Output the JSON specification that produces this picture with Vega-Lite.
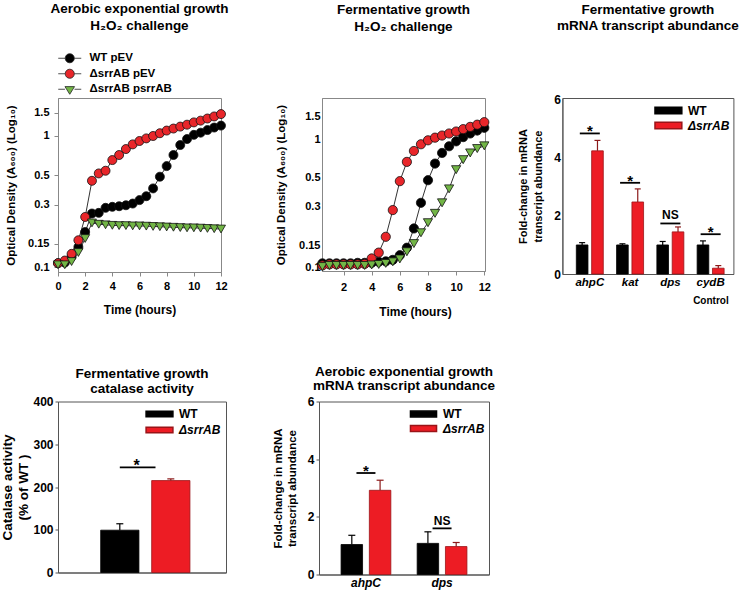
{
"$schema": "https://vega.github.io/schema/vega-lite/v6.json",
"autosize": {"type": "none"},
"padding": {"left": 58, "top": 98, "right": 683, "bottom": 494},
"background": "white",
"config": {
  "font": "Liberation Sans",
  "axis": {"labelFont": "Liberation Sans", "labelFontWeight": "bold", "labelFontSize": 11, "labelColor": "#000", "labelOverlap": false, "titleFont": "Liberation Sans", "titleFontWeight": "bold", "titleFontSize": 11.5, "titleColor": "#000", "grid": false, "domainColor": "#888", "tickColor": "#888"},
  "legend": {"labelFont": "Liberation Sans", "labelFontWeight": "bold", "labelFontSize": 12, "labelColor": "#000", "padding": 0},
  "title": {"font": "Liberation Sans", "fontWeight": "bold", "fontSize": 13.5, "color": "#000", "anchor": "middle", "lineHeight": 16},
  "view": {"stroke": "#888"}
},
"datasets": {
  "growthA": [
    {"t":0,"od":0.107,"s":"WT pEV"},{"t":0.5,"od":0.108,"s":"WT pEV"},{"t":1,"od":0.12,"s":"WT pEV"},{"t":1.5,"od":0.142,"s":"WT pEV"},{"t":2,"od":0.185,"s":"WT pEV"},{"t":2.5,"od":0.256,"s":"WT pEV"},{"t":3,"od":0.259,"s":"WT pEV"},{"t":3.5,"od":0.283,"s":"WT pEV"},{"t":4,"od":0.288,"s":"WT pEV"},{"t":4.5,"od":0.291,"s":"WT pEV"},{"t":5,"od":0.296,"s":"WT pEV"},{"t":5.5,"od":0.305,"s":"WT pEV"},{"t":6,"od":0.324,"s":"WT pEV"},{"t":6.5,"od":0.347,"s":"WT pEV"},{"t":7,"od":0.398,"s":"WT pEV"},{"t":7.5,"od":0.489,"s":"WT pEV"},{"t":8,"od":0.589,"s":"WT pEV"},{"t":8.5,"od":0.716,"s":"WT pEV"},{"t":9,"od":0.853,"s":"WT pEV"},{"t":9.5,"od":0.948,"s":"WT pEV"},{"t":10,"od":1.02,"s":"WT pEV"},{"t":10.5,"od":1.06,"s":"WT pEV"},{"t":11,"od":1.11,"s":"WT pEV"},{"t":11.5,"od":1.16,"s":"WT pEV"},{"t":12,"od":1.2,"s":"WT pEV"},
    {"t":0,"od":0.107,"s":"ΔsrrAB pEV"},{"t":0.5,"od":0.112,"s":"ΔsrrAB pEV"},{"t":1,"od":0.126,"s":"ΔsrrAB pEV"},{"t":1.5,"od":0.16,"s":"ΔsrrAB pEV"},{"t":2,"od":0.241,"s":"ΔsrrAB pEV"},{"t":2.5,"od":0.455,"s":"ΔsrrAB pEV"},{"t":3,"od":0.518,"s":"ΔsrrAB pEV"},{"t":3.5,"od":0.543,"s":"ΔsrrAB pEV"},{"t":4,"od":0.655,"s":"ΔsrrAB pEV"},{"t":4.5,"od":0.716,"s":"ΔsrrAB pEV"},{"t":5,"od":0.795,"s":"ΔsrrAB pEV"},{"t":5.5,"od":0.863,"s":"ΔsrrAB pEV"},{"t":6,"od":0.916,"s":"ΔsrrAB pEV"},{"t":6.5,"od":0.959,"s":"ΔsrrAB pEV"},{"t":7,"od":1.0,"s":"ΔsrrAB pEV"},{"t":7.5,"od":1.05,"s":"ΔsrrAB pEV"},{"t":8,"od":1.1,"s":"ΔsrrAB pEV"},{"t":8.5,"od":1.14,"s":"ΔsrrAB pEV"},{"t":9,"od":1.18,"s":"ΔsrrAB pEV"},{"t":9.5,"od":1.22,"s":"ΔsrrAB pEV"},{"t":10,"od":1.27,"s":"ΔsrrAB pEV"},{"t":10.5,"od":1.31,"s":"ΔsrrAB pEV"},{"t":11,"od":1.36,"s":"ΔsrrAB pEV"},{"t":11.5,"od":1.41,"s":"ΔsrrAB pEV"},{"t":12,"od":1.47,"s":"ΔsrrAB pEV"},
    {"t":0,"od":0.104,"s":"ΔsrrAB psrrAB"},{"t":0.5,"od":0.104,"s":"ΔsrrAB psrrAB"},{"t":1,"od":0.11,"s":"ΔsrrAB psrrAB"},{"t":1.5,"od":0.129,"s":"ΔsrrAB psrrAB"},{"t":2,"od":0.165,"s":"ΔsrrAB psrrAB"},{"t":2.5,"od":0.217,"s":"ΔsrrAB psrrAB"},{"t":3,"od":0.212,"s":"ΔsrrAB psrrAB"},{"t":3.5,"od":0.21,"s":"ΔsrrAB psrrAB"},{"t":4,"od":0.208,"s":"ΔsrrAB psrrAB"},{"t":4.5,"od":0.207,"s":"ΔsrrAB psrrAB"},{"t":5,"od":0.207,"s":"ΔsrrAB psrrAB"},{"t":5.5,"od":0.206,"s":"ΔsrrAB psrrAB"},{"t":6,"od":0.206,"s":"ΔsrrAB psrrAB"},{"t":6.5,"od":0.205,"s":"ΔsrrAB psrrAB"},{"t":7,"od":0.204,"s":"ΔsrrAB psrrAB"},{"t":7.5,"od":0.203,"s":"ΔsrrAB psrrAB"},{"t":8,"od":0.202,"s":"ΔsrrAB psrrAB"},{"t":8.5,"od":0.201,"s":"ΔsrrAB psrrAB"},{"t":9,"od":0.2,"s":"ΔsrrAB psrrAB"},{"t":9.5,"od":0.199,"s":"ΔsrrAB psrrAB"},{"t":10,"od":0.199,"s":"ΔsrrAB psrrAB"},{"t":10.5,"od":0.198,"s":"ΔsrrAB psrrAB"},{"t":11,"od":0.197,"s":"ΔsrrAB psrrAB"},{"t":11.5,"od":0.196,"s":"ΔsrrAB psrrAB"},{"t":12,"od":0.195,"s":"ΔsrrAB psrrAB"}
  ],
  "growthB": [
    {"t":0.5,"od":0.108,"s":"WT pEV"},{"t":1,"od":0.108,"s":"WT pEV"},{"t":1.5,"od":0.108,"s":"WT pEV"},{"t":2,"od":0.108,"s":"WT pEV"},{"t":2.5,"od":0.108,"s":"WT pEV"},{"t":3,"od":0.109,"s":"WT pEV"},{"t":3.5,"od":0.109,"s":"WT pEV"},{"t":4,"od":0.109,"s":"WT pEV"},{"t":4.5,"od":0.111,"s":"WT pEV"},{"t":5,"od":0.112,"s":"WT pEV"},{"t":5.5,"od":0.115,"s":"WT pEV"},{"t":6,"od":0.125,"s":"WT pEV"},{"t":6.5,"od":0.143,"s":"WT pEV"},{"t":7,"od":0.202,"s":"WT pEV"},{"t":7.5,"od":0.32,"s":"WT pEV"},{"t":8,"od":0.48,"s":"WT pEV"},{"t":8.5,"od":0.647,"s":"WT pEV"},{"t":9,"od":0.783,"s":"WT pEV"},{"t":9.5,"od":0.883,"s":"WT pEV"},{"t":10,"od":0.964,"s":"WT pEV"},{"t":10.5,"od":1.04,"s":"WT pEV"},{"t":11,"od":1.11,"s":"WT pEV"},{"t":11.5,"od":1.17,"s":"WT pEV"},{"t":12,"od":1.23,"s":"WT pEV"},
    {"t":0.5,"od":0.104,"s":"ΔsrrAB pEV"},{"t":1,"od":0.106,"s":"ΔsrrAB pEV"},{"t":1.5,"od":0.106,"s":"ΔsrrAB pEV"},{"t":2,"od":0.106,"s":"ΔsrrAB pEV"},{"t":2.5,"od":0.106,"s":"ΔsrrAB pEV"},{"t":3,"od":0.106,"s":"ΔsrrAB pEV"},{"t":3.5,"od":0.107,"s":"ΔsrrAB pEV"},{"t":4,"od":0.118,"s":"ΔsrrAB pEV"},{"t":4.5,"od":0.131,"s":"ΔsrrAB pEV"},{"t":5,"od":0.174,"s":"ΔsrrAB pEV"},{"t":5.5,"od":0.281,"s":"ΔsrrAB pEV"},{"t":6,"od":0.472,"s":"ΔsrrAB pEV"},{"t":6.5,"od":0.667,"s":"ΔsrrAB pEV"},{"t":7,"od":0.811,"s":"ΔsrrAB pEV"},{"t":7.5,"od":0.915,"s":"ΔsrrAB pEV"},{"t":8,"od":0.982,"s":"ΔsrrAB pEV"},{"t":8.5,"od":1.03,"s":"ΔsrrAB pEV"},{"t":9,"od":1.07,"s":"ΔsrrAB pEV"},{"t":9.5,"od":1.11,"s":"ΔsrrAB pEV"},{"t":10,"od":1.15,"s":"ΔsrrAB pEV"},{"t":10.5,"od":1.2,"s":"ΔsrrAB pEV"},{"t":11,"od":1.25,"s":"ΔsrrAB pEV"},{"t":11.5,"od":1.3,"s":"ΔsrrAB pEV"},{"t":12,"od":1.36,"s":"ΔsrrAB pEV"},
    {"t":0.5,"od":0.102,"s":"ΔsrrAB psrrAB"},{"t":1,"od":0.104,"s":"ΔsrrAB psrrAB"},{"t":1.5,"od":0.104,"s":"ΔsrrAB psrrAB"},{"t":2,"od":0.104,"s":"ΔsrrAB psrrAB"},{"t":2.5,"od":0.104,"s":"ΔsrrAB psrrAB"},{"t":3,"od":0.104,"s":"ΔsrrAB psrrAB"},{"t":3.5,"od":0.104,"s":"ΔsrrAB psrrAB"},{"t":4,"od":0.105,"s":"ΔsrrAB psrrAB"},{"t":4.5,"od":0.106,"s":"ΔsrrAB psrrAB"},{"t":5,"od":0.108,"s":"ΔsrrAB psrrAB"},{"t":5.5,"od":0.111,"s":"ΔsrrAB psrrAB"},{"t":6,"od":0.117,"s":"ΔsrrAB psrrAB"},{"t":6.5,"od":0.133,"s":"ΔsrrAB psrrAB"},{"t":7,"od":0.154,"s":"ΔsrrAB psrrAB"},{"t":7.5,"od":0.187,"s":"ΔsrrAB psrrAB"},{"t":8,"od":0.224,"s":"ΔsrrAB psrrAB"},{"t":8.5,"od":0.265,"s":"ΔsrrAB psrrAB"},{"t":9,"od":0.32,"s":"ΔsrrAB psrrAB"},{"t":9.5,"od":0.411,"s":"ΔsrrAB psrrAB"},{"t":10,"od":0.58,"s":"ΔsrrAB psrrAB"},{"t":10.5,"od":0.694,"s":"ΔsrrAB psrrAB"},{"t":11,"od":0.783,"s":"ΔsrrAB psrrAB"},{"t":11.5,"od":0.847,"s":"ΔsrrAB psrrAB"},{"t":12,"od":0.889,"s":"ΔsrrAB psrrAB"}
  ],
  "barsC": [
    {"gene":"ahpC","series":"WT","mean":1.0,"hi":1.08},{"gene":"ahpC","series":"ΔsrrAB","mean":4.24,"hi":4.6},
    {"gene":"kat","series":"WT","mean":1.0,"hi":1.04},{"gene":"kat","series":"ΔsrrAB","mean":2.48,"hi":2.93},
    {"gene":"dps","series":"WT","mean":1.0,"hi":1.12},{"gene":"dps","series":"ΔsrrAB","mean":1.45,"hi":1.62},
    {"gene":"cydB","series":"WT","mean":1.0,"hi":1.14},{"gene":"cydB","series":"ΔsrrAB","mean":0.2,"hi":0.29}
  ],
  "sigC": [
    {"gene":"ahpC","level":4.84,"label":"*"},{"gene":"kat","level":3.14,"label":"*"},{"gene":"dps","level":1.74,"label":"NS"},{"gene":"cydB","level":1.37,"label":"*"}
  ],
  "barsD": [
    {"series":"WT","mean":99,"hi":114},{"series":"ΔsrrAB","mean":215,"hi":219}
  ],
  "sigD": [
    {"from":"WT","to":"ΔsrrAB","level":246,"label":"*"}
  ],
  "barsE": [
    {"gene":"ahpC","series":"WT","mean":1.04,"hi":1.36},{"gene":"ahpC","series":"ΔsrrAB","mean":2.92,"hi":3.27},
    {"gene":"dps","series":"WT","mean":1.08,"hi":1.48},{"gene":"dps","series":"ΔsrrAB","mean":0.97,"hi":1.11}
  ],
  "sigE": [
    {"gene":"ahpC","level":3.52,"label":"*"},{"gene":"dps","level":1.6,"label":"NS"}
  ]
},
"bounds": "full",
"spacing": 45.5,
"resolve": {"scale": {"x": "independent", "y": "independent", "fill": "independent", "stroke": "independent", "color": "independent", "shape": "independent", "xOffset": "independent"}, "legend": {"fill": "independent", "shape": "independent", "stroke": "independent", "color": "independent"}},
"vconcat": [
  {
    "bounds": "full",
    "spacing": 24.4,
    "resolve": {"scale": {"x": "independent", "y": "independent", "fill": "independent", "stroke": "independent", "color": "independent", "shape": "independent", "xOffset": "independent"}, "legend": {"fill": "independent", "shape": "independent", "stroke": "independent", "color": "independent"}},
    "hconcat": [
      {
        "bounds": "flush",
        "spacing": 101,
        "resolve": {"scale": {"x": "independent", "y": "independent", "fill": "independent", "shape": "independent"}, "legend": {"fill": "independent", "shape": "independent"}},
        "hconcat": [
          {
            "width": 163, "height": 174,
            "title": {"text": ["Aerobic exponential growth", "H₂O₂  challenge"], "offset": 20, "lineHeight": 17},
            "data": {"name": "growthA"},
            "encoding": {
              "x": {"field": "t", "type": "quantitative", "scale": {"domain": [0, 12], "nice": false, "zero": false},
                    "axis": {"values": [0, 2, 4, 6, 8, 10, 12], "labelFlush": false, "title": "Time (hours)", "tickSize": 4, "labelPadding": 4, "titlePadding": 13, "titleFontSize": 12}},
              "y": {"field": "od", "type": "quantitative", "scale": {"type": "log", "domain": [0.0916, 1.95], "nice": false},
                    "axis": {"values": [0.1, 0.15, 0.3, 0.5, 1, 1.5], "format": "~g", "labelFlush": false, "title": "Optical Density (A₆₀₀) (Log₁₀)", "tickSize": 4, "labelPadding": 5, "titlePadding": 11}}
            },
            "layer": [
              {"mark": {"type": "line", "color": "#333", "strokeWidth": 1}, "encoding": {"detail": {"field": "s", "type": "nominal"}}},
              {"transform": [{"filter": "datum.s !== 'ΔsrrAB psrrAB'"}],
               "mark": {"type": "point", "shape": "circle", "filled": true, "opacity": 1, "size": 81, "stroke": "#111", "strokeWidth": 0.8},
               "encoding": {
                 "fill": {"field": "s", "type": "nominal", "scale": {"domain": ["WT pEV", "ΔsrrAB pEV", "ΔsrrAB psrrAB"], "range": ["#000000", "#e8262a", "#72b546"]},
                          "legend": {"title": null, "orient": "none", "legendX": 6, "legendY": -45.5, "symbolSize": 92, "labelOffset": 14, "rowPadding": 2.5, "labelFontSize": 11.5,
                                     "symbolType": {"expr": "datum.value === 'ΔsrrAB psrrAB' ? 'M-2.4,0H-1M1,0H2.4M-1,-0.55L1,-0.55L0,1.05Z' : 'M-2.4,0H-0.95M0.95,0H2.4M0.95,0A0.95,0.95,0,1,1,-0.95,0A0.95,0.95,0,1,1,0.95,0Z'"},
                                     "symbolStrokeColor": "#222", "symbolStrokeWidth": 0.8}}
               }},
              {"transform": [{"filter": "datum.s === 'ΔsrrAB psrrAB'"}],
               "mark": {"type": "point", "shape": "triangle-down", "filled": true, "opacity": 1, "size": 81, "stroke": "#111", "strokeWidth": 0.8},
               "encoding": {
                 "fill": {"field": "s", "type": "nominal"}
               }}
            ]
          },
          {
            "width": 163, "height": 173,
            "title": {"text": ["Fermentative growth", "H₂O₂  challenge"], "offset": 64.5, "lineHeight": 17},
            "data": {"name": "growthB"},
            "encoding": {
              "x": {"field": "t", "type": "quantitative", "scale": {"domain": [0.47, 12.05], "nice": false, "zero": false},
                    "axis": {"values": [2, 4, 6, 8, 10, 12], "labelFlush": false, "title": "Time (hours)", "tickSize": 4, "labelPadding": 6, "titlePadding": 14, "titleFontSize": 12, "titleX": 93}},
              "y": {"field": "od", "type": "quantitative", "scale": {"type": "log", "domain": [0.0942, 2.098], "nice": false},
                    "axis": {"values": [0.1, 0.15, 0.3, 0.5, 1, 1.5], "format": "~g", "labelFlush": false, "title": "Optical Density (A₆₀₀) (Log₁₀)", "ticks": false, "labelPadding": 2, "titlePadding": 12}}
            },
            "layer": [
              {"mark": {"type": "line", "color": "#333", "strokeWidth": 1}, "encoding": {"detail": {"field": "s", "type": "nominal"}}},
              {"mark": {"type": "point", "filled": true, "opacity": 1, "size": 85, "stroke": "#111", "strokeWidth": 0.8},
               "encoding": {
                 "fill": {"field": "s", "type": "nominal", "scale": {"domain": ["WT pEV", "ΔsrrAB pEV", "ΔsrrAB psrrAB"], "range": ["#000000", "#e8262a", "#72b546"]}, "legend": null},
                 "shape": {"field": "s", "type": "nominal", "scale": {"domain": ["WT pEV", "ΔsrrAB pEV", "ΔsrrAB psrrAB"], "range": ["circle", "circle", "triangle-down"]}, "legend": null}
               }}
            ]
          }
        ]
      },
      {
        "width": 171, "height": 176,
        "view": {"stroke": "#555"},
        "title": {"text": ["Fermentative growth", "mRNA transcript abundance"], "offset": 61.7},
        "encoding": {
          "x": {"field": "gene", "type": "nominal", "sort": null, "scale": {"domain": ["ahpC", "kat", "dps", "cydB"], "paddingInner": 0.33, "paddingOuter": 0.288, "align": 0.6},
                "axis": {"labelAngle": 0, "labelFontStyle": "italic", "labelFontSize": 11.5, "ticks": false, "labelPadding": 2, "domainColor": "#555", "title": "Control", "titleX": 148, "titleY": 26, "titleBaseline": "middle", "titleAlign": "center", "titleFontSize": 10}}
        },
        "layer": [
          {"data": {"name": "barsC"}, "mark": {"type": "bar", "strokeWidth": 0.8},
           "encoding": {
             "xOffset": {"field": "series", "type": "nominal", "sort": null, "scale": {"domain": ["WT", "ΔsrrAB"], "paddingInner": 0.24, "paddingOuter": 0}},
             "y": {"field": "mean", "type": "quantitative", "scale": {"domain": [0, 6.06], "nice": false},
                   "axis": {"values": [0, 1, 2, 3, 4, 5, 6], "labelFontSize": 12, "ticks": false, "labelPadding": 2, "domainColor": "#555", "title": ["Fold-change in mRNA", "transcript abundance"], "titleFontSize": 11, "titleLineHeight": 15, "titlePadding": 10.5}},
             "fill": {"field": "series", "type": "nominal", "scale": {"domain": ["WT", "ΔsrrAB"], "range": ["#000000", "#ed1c24"]},
                      "legend": {"title": null, "orient": "none", "legendX": 98.5, "legendY": 5, "symbolSize": 180, "symbolType": "M-2,-0.5H2V0.5H-2Z", "labelOffset": 12, "rowPadding": 1, "labelFontSize": 12,
                                 "encode": {"labels": {"update": {"fontStyle": {"signal": "datum.value === 'WT' ? 'normal' : 'italic'"}}}}}},
             "stroke": {"field": "series", "type": "nominal", "scale": {"domain": ["WT", "ΔsrrAB"], "range": ["#000000", "#9a1418"]}, "legend": null}
           }},
          {"data": {"name": "barsC"}, "mark": {"type": "rule", "strokeWidth": 1.2},
           "encoding": {
             "xOffset": {"field": "series", "type": "nominal", "sort": null},
             "y": {"field": "mean", "type": "quantitative"}, "y2": {"field": "hi"},
             "color": {"field": "series", "type": "nominal", "scale": {"domain": ["WT", "ΔsrrAB"], "range": ["#000000", "#8c1a1a"]}, "legend": null}
           }},
          {"data": {"name": "barsC"}, "mark": {"type": "tick", "size": 6, "thickness": 1.2, "opacity": 1},
           "encoding": {
             "xOffset": {"field": "series", "type": "nominal", "sort": null},
             "y": {"field": "hi", "type": "quantitative"},
             "color": {"field": "series", "type": "nominal", "legend": null}
           }},
          {"data": {"name": "sigC"}, "mark": {"type": "tick", "size": 20, "thickness": 1.8, "color": "#000", "opacity": 1},
           "encoding": {"y": {"field": "level", "type": "quantitative"}}},
          {"data": {"name": "sigC"}, "transform": [{"filter": "datum.label === '*'"}], "mark": {"type": "text", "fontSize": 15, "fontWeight": "bold", "baseline": "alphabetic", "dy": 3, "color": "#000"},
           "encoding": {"y": {"field": "level", "type": "quantitative"}, "text": {"field": "label"}}},
          {"data": {"name": "sigC"}, "transform": [{"filter": "datum.label === 'NS'"}], "mark": {"type": "text", "fontSize": 12, "fontWeight": "bold", "baseline": "alphabetic", "dy": -4, "color": "#000"},
           "encoding": {"y": {"field": "level", "type": "quantitative"}, "text": {"field": "label"}}}
        ]
      }
    ]
  },
  {
    "bounds": "flush",
    "spacing": 93,
    "resolve": {"scale": {"x": "independent", "y": "independent", "fill": "independent", "stroke": "independent", "color": "independent", "xOffset": "independent"}, "legend": {"fill": "independent", "stroke": "independent", "color": "independent"}},
    "hconcat": [
      {
        "width": 168, "height": 171,
        "view": {"stroke": "#555"},
        "title": {"text": ["Fermentative growth", "catalase activity"], "offset": 0, "lineHeight": 15.5},
        "encoding": {
          "x": {"field": "series", "type": "nominal", "sort": null, "scale": {"domain": ["WT", "ΔsrrAB"], "paddingInner": 0.25, "paddingOuter": 0.772, "align": 0.542},
                "axis": {"labels": false, "ticks": false, "title": null, "domainColor": "#555"}}
        },
        "layer": [
          {"data": {"name": "barsD"}, "mark": {"type": "bar", "strokeWidth": 0.8},
           "encoding": {
             "y": {"field": "mean", "type": "quantitative", "scale": {"domain": [0, 400], "nice": false},
                   "axis": {"values": [0, 100, 200, 300, 400], "labelFontSize": 12, "tickSize": 3, "labelPadding": 2, "domainColor": "#555", "tickColor": "#555", "title": ["Catalase activity", "(% of WT )"], "titleFontSize": 13.5, "titleLineHeight": 15.5, "titlePadding": 2.5}},
             "fill": {"field": "series", "type": "nominal", "scale": {"domain": ["WT", "ΔsrrAB"], "range": ["#000000", "#ed1c24"]},
                      "legend": {"title": null, "orient": "none", "legendX": 94, "legendY": 5, "symbolSize": 180, "symbolType": "M-2,-0.4H2V0.4H-2Z", "labelOffset": 12, "rowPadding": 2, "labelFontSize": 12,
                                 "encode": {"labels": {"update": {"fontStyle": {"signal": "datum.value === 'WT' ? 'normal' : 'italic'"}}}}}},
             "stroke": {"field": "series", "type": "nominal", "scale": {"domain": ["WT", "ΔsrrAB"], "range": ["#000000", "#9a1418"]}, "legend": null}
           }},
          {"data": {"name": "barsD"}, "mark": {"type": "rule", "strokeWidth": 1.2},
           "encoding": {
             "y": {"field": "mean", "type": "quantitative"}, "y2": {"field": "hi"},
             "color": {"field": "series", "type": "nominal", "scale": {"domain": ["WT", "ΔsrrAB"], "range": ["#000000", "#8c1a1a"]}, "legend": null}
           }},
          {"data": {"name": "barsD"}, "mark": {"type": "tick", "size": 7, "thickness": 1.2, "opacity": 1},
           "encoding": {
             "y": {"field": "hi", "type": "quantitative"},
             "color": {"field": "series", "type": "nominal", "legend": null}
           }},
          {"data": {"name": "sigD"}, "mark": {"type": "rule", "strokeWidth": 1.8, "color": "#000"},
           "encoding": {"x": {"field": "from", "type": "nominal", "bandPosition": 0.5}, "x2": {"field": "to", "bandPosition": 0.1}, "y": {"field": "level", "type": "quantitative"}}},
          {"data": {"name": "sigD"}, "mark": {"type": "text", "fontSize": 16, "fontWeight": "bold", "baseline": "alphabetic", "dy": 4, "color": "#000"},
           "encoding": {"x": {"field": "from", "type": "nominal", "bandPosition": 0.94}, "y": {"field": "level", "type": "quantitative"}, "text": {"field": "label"}}}
        ]
      },
      {
        "width": 170, "height": 173,
        "view": {"stroke": "#555"},
        "title": {"text": ["Aerobic exponential growth", "mRNA transcript abundance"], "offset": 3.5, "lineHeight": 14},
        "encoding": {
          "x": {"field": "gene", "type": "nominal", "sort": null, "scale": {"domain": ["ahpC", "dps"], "paddingInner": 0.346, "paddingOuter": 0.29, "align": 0.5},
                "axis": {"labelAngle": 0, "labelFontStyle": "italic", "labelFontSize": 12, "ticks": false, "labelPadding": 3, "domainColor": "#555", "title": null}}
        },
        "layer": [
          {"data": {"name": "barsE"}, "mark": {"type": "bar", "strokeWidth": 0.8},
           "encoding": {
             "xOffset": {"field": "series", "type": "nominal", "sort": null, "scale": {"domain": ["WT", "ΔsrrAB"], "paddingInner": 0.24, "paddingOuter": 0}},
             "y": {"field": "mean", "type": "quantitative", "scale": {"domain": [0, 6], "nice": false},
                   "axis": {"values": [0, 1, 2, 3, 4, 5, 6], "labelFontSize": 12, "tickSize": 3, "labelPadding": 2, "domainColor": "#555", "tickColor": "#555", "title": ["Fold-change in mRNA", "transcript abundance"], "titleFontSize": 11.5, "titleLineHeight": 14, "titlePadding": 10}},
             "fill": {"field": "series", "type": "nominal", "scale": {"domain": ["WT", "ΔsrrAB"], "range": ["#000000", "#ed1c24"]},
                      "legend": {"title": null, "orient": "none", "legendX": 97, "legendY": 5, "symbolSize": 170, "symbolType": "M-2,-0.45H2V0.45H-2Z", "labelOffset": 12, "rowPadding": 0.5, "labelFontSize": 12,
                                 "encode": {"labels": {"update": {"fontStyle": {"signal": "datum.value === 'WT' ? 'normal' : 'italic'"}}}}}},
             "stroke": {"field": "series", "type": "nominal", "scale": {"domain": ["WT", "ΔsrrAB"], "range": ["#000000", "#9a1418"]}, "legend": null}
           }},
          {"data": {"name": "barsE"}, "mark": {"type": "rule", "strokeWidth": 1.2},
           "encoding": {
             "xOffset": {"field": "series", "type": "nominal", "sort": null},
             "y": {"field": "mean", "type": "quantitative"}, "y2": {"field": "hi"},
             "color": {"field": "series", "type": "nominal", "scale": {"domain": ["WT", "ΔsrrAB"], "range": ["#000000", "#8c1a1a"]}, "legend": null}
           }},
          {"data": {"name": "barsE"}, "mark": {"type": "tick", "size": 7, "thickness": 1.2, "opacity": 1},
           "encoding": {
             "xOffset": {"field": "series", "type": "nominal", "sort": null},
             "y": {"field": "hi", "type": "quantitative"},
             "color": {"field": "series", "type": "nominal", "legend": null}
           }},
          {"data": {"name": "sigE"}, "mark": {"type": "tick", "size": 19, "thickness": 1.8, "color": "#000", "opacity": 1},
           "encoding": {"y": {"field": "level", "type": "quantitative"}}},
          {"data": {"name": "sigE"}, "transform": [{"filter": "datum.label === '*'"}], "mark": {"type": "text", "fontSize": 15, "fontWeight": "bold", "baseline": "alphabetic", "dy": 3, "color": "#000"},
           "encoding": {"y": {"field": "level", "type": "quantitative"}, "text": {"field": "label"}}},
          {"data": {"name": "sigE"}, "transform": [{"filter": "datum.label === 'NS'"}], "mark": {"type": "text", "fontSize": 12, "fontWeight": "bold", "baseline": "alphabetic", "dy": -3, "color": "#000"},
           "encoding": {"y": {"field": "level", "type": "quantitative"}, "text": {"field": "label"}}}
        ]
      }
    ]
  }
]
}
